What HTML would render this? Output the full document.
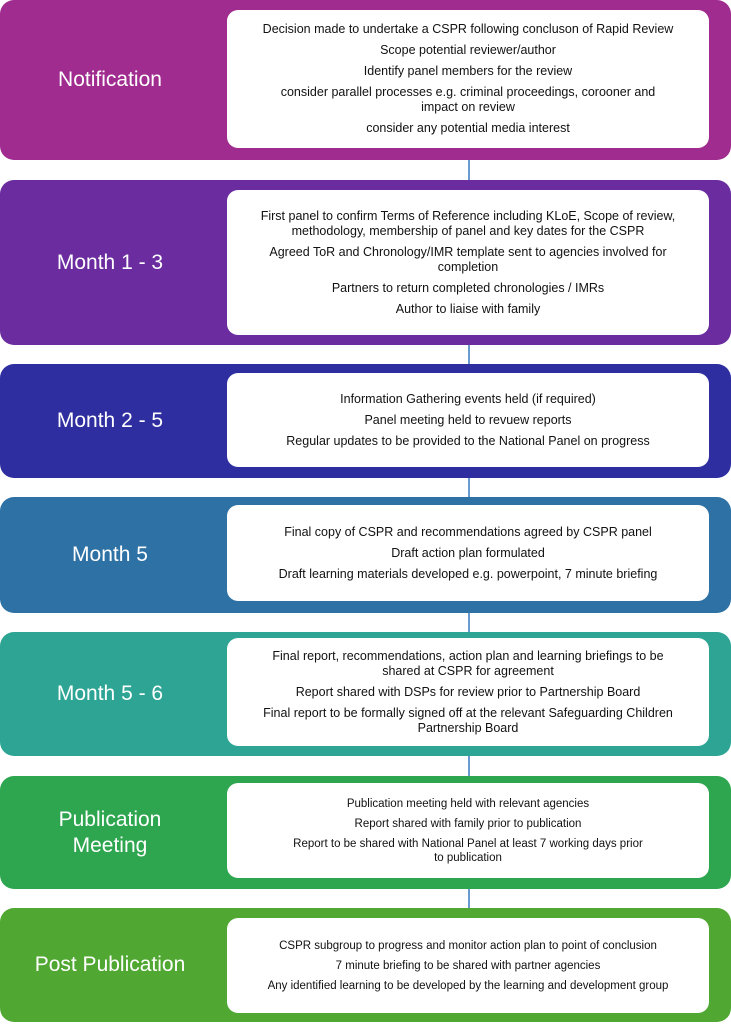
<!DOCTYPE html>
<html><head><style>
body{margin:0;width:731px;height:1024px;background:#fff;position:relative;overflow:hidden;font-family:"Liberation Sans",sans-serif}
.band{position:absolute;left:0;width:731px;border-radius:14px}
.lab{position:absolute;left:0;width:220px;color:#fff;font-size:21px;text-align:center;display:flex;align-items:center;justify-content:center;line-height:26px}
.box{position:absolute;left:227px;width:482px;background:#fff;border-radius:11px;display:flex;flex-direction:column;justify-content:center;align-items:center;text-align:center;font-size:12.5px;color:#111;line-height:15px}
.box p{margin:3px 32px}
.sm{font-size:11.5px;line-height:14px}
.sm p{margin:3px 50px}
.ln{position:absolute;left:468px;width:2px;background:#6a9bd0}
</style></head><body>
<div class="ln" style="top:140px;height:50px"></div>
<div class="ln" style="top:330px;height:50px"></div>
<div class="ln" style="top:460px;height:50px"></div>
<div class="ln" style="top:595px;height:50px"></div>
<div class="ln" style="top:740px;height:50px"></div>
<div class="ln" style="top:870px;height:55px"></div>

<div class="band" style="top:0;height:160px;background:#a02c8f"></div>
<div class="lab" style="top:0;height:160px">Notification</div>
<div class="box" style="top:10px;height:138px"><p style="margin-left:10px;margin-right:10px">Decision made to undertake a CSPR following concluson of Rapid Review</p><p>Scope potential reviewer/author</p><p>Identify panel members for the review</p><p style="margin-left:38px;margin-right:38px">consider parallel processes e.g. criminal proceedings, corooner and impact on review</p><p>consider any potential media interest</p></div>

<div class="band" style="top:180px;height:165px;background:#6a2c9e"></div>
<div class="lab" style="top:180px;height:165px">Month 1 - 3</div>
<div class="box" style="top:190px;height:145px"><p style="margin-left:10px;margin-right:10px">First panel to confirm Terms of Reference including KLoE, Scope of review, methodology, membership of panel and key dates for the CSPR</p><p>Agreed ToR and Chronology/IMR template sent to agencies involved for completion</p><p>Partners to return completed chronologies / IMRs</p><p>Author to liaise with family</p></div>

<div class="band" style="top:364px;height:114px;background:#2e2ea0"></div>
<div class="lab" style="top:364px;height:114px">Month 2 - 5</div>
<div class="box" style="top:373px;height:94px"><p>Information Gathering events held (if required)</p><p>Panel meeting held to revuew reports</p><p>Regular updates to be provided to the National Panel on progress</p></div>

<div class="band" style="top:497px;height:116px;background:#2e72a5"></div>
<div class="lab" style="top:497px;height:116px">Month 5</div>
<div class="box" style="top:505px;height:96px"><p>Final copy of CSPR and recommendations agreed by CSPR panel</p><p>Draft action plan formulated</p><p>Draft learning materials developed e.g. powerpoint, 7 minute briefing</p></div>

<div class="band" style="top:632px;height:124px;background:#2ea594"></div>
<div class="lab" style="top:632px;height:124px">Month 5 - 6</div>
<div class="box" style="top:638px;height:108px"><p>Final report, recommendations, action plan and learning briefings to be shared at CSPR for agreement</p><p>Report shared with DSPs for review prior to Partnership Board</p><p style="margin-left:14px;margin-right:14px">Final report to be formally signed off at the relevant Safeguarding Children Partnership Board</p></div>

<div class="band" style="top:776px;height:113px;background:#2ea64f"></div>
<div class="lab" style="top:776px;height:113px">Publication<br>Meeting</div>
<div class="box sm" style="top:783px;height:95px"><p>Publication meeting held with relevant agencies</p><p>Report shared with family prior to publication</p><p style="margin-left:60px;margin-right:60px">Report to be shared with National Panel at least 7 working days prior to publication</p></div>

<div class="band" style="top:908px;height:114px;background:#50a832"></div>
<div class="lab" style="top:908px;height:114px">Post Publication</div>
<div class="box sm" style="top:918px;height:95px"><p style="margin-left:6px;margin-right:6px">CSPR subgroup to progress and monitor action plan to point of conclusion</p><p>7 minute briefing to be shared with partner agencies</p><p style="margin-left:4px;margin-right:4px">Any identified learning to be developed by the learning and development group</p></div>
</body></html>
